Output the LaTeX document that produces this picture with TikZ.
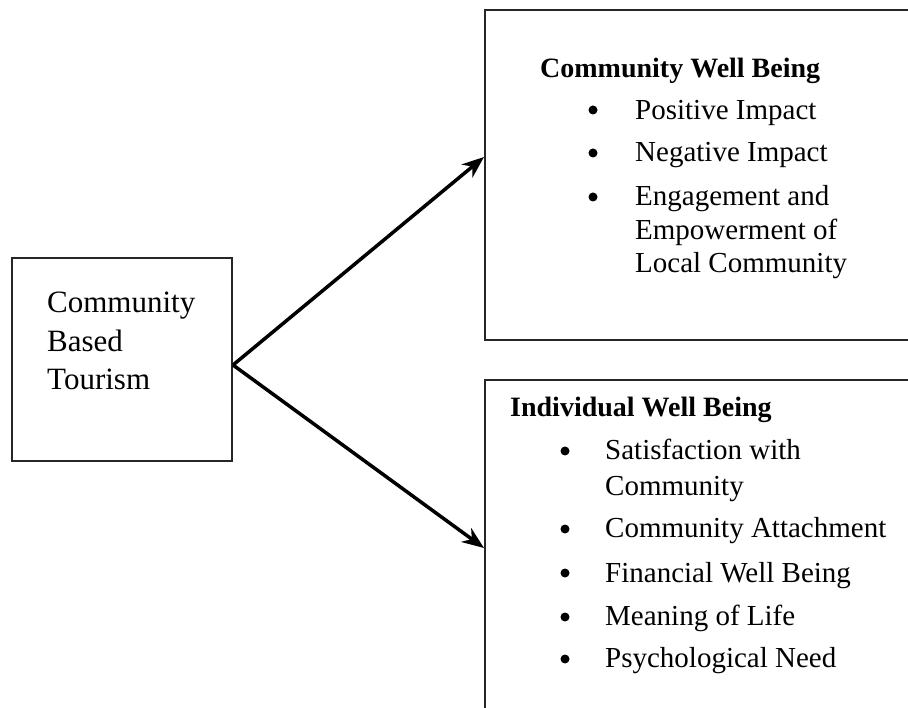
\documentclass[tikz,border=0pt]{standalone}
\usepackage{fontspec}
\setmainfont{Liberation Serif}
\usetikzlibrary{arrows.meta}

\tikzset{
  box/.style={draw=black!85, line width=2pt, inner sep=0pt},
  line/.style={anchor=base west, inner sep=0pt, font=\fontsize{29}{34}\selectfont},
  head/.style={line, font=\fontsize{28}{34}\selectfont\bfseries},
  dot/.style={circle, fill=black, inner sep=0pt, minimum size=9pt},
  arr/.style={line width=3.5pt, -{Stealth[length=22pt,width=17pt,inset=7pt]}}
}

\begin{document}
\begin{tikzpicture}[x=1pt,y=-1pt]
    \useasboundingbox (0,0) rectangle (908,708);
    % boxes
    \node[box, minimum width=220pt, minimum height=203pt] (CBT) at (122,359.5) {};
    \node[box, minimum width=455pt, minimum height=330pt] (CWB) at (712.5,175) {};
    \node[box, minimum width=455pt, minimum height=360pt] (IWB) at (712.5,560) {};
    % left box
    \node[line, font=\fontsize{31}{38}\selectfont] (T1) at (47,313) {Community};
    \node[line, font=\fontsize{31}{38}\selectfont] (T2) at (47,352) {Based};
    \node[line, font=\fontsize{31}{38}\selectfont] (T3) at (47,390) {Tourism};
    % community well being
    \node[head] (CH) at (540,78) {Community Well Being};
    \node[dot] (CB1) at (593,110) {};
    \node[line] (C1) at (635,120) {Positive Impact};
    \node[dot] (CB2) at (593,153) {};
    \node[line] (C2) at (635,162) {Negative Impact};
    \node[dot] (CB3) at (593,197) {};
    \node[line] (C3a) at (635,206) {Engagement and};
    \node[line] (C3b) at (635,240) {Empowerment of};
    \node[line] (C3c) at (635,273) {Local Community};
    % individual well being
    \node[head] (IH) at (510,417) {Individual Well Being};
    \node[dot] (IB1) at (565,451) {};
    \node[line] (I1a) at (605,460) {Satisfaction with};
    \node[line] (I1b) at (605,495) {Community};
    \node[dot] (IB2) at (565,529) {};
    \node[line] (I2) at (605,537) {Community Attachment};
    \node[dot] (IB3) at (565,573) {};
    \node[line] (I3) at (605,582) {Financial Well Being};
    \node[dot] (IB4) at (565,617) {};
    \node[line] (I4) at (605,625) {Meaning of Life};
    \node[dot] (IB5) at (565,659) {};
    \node[line] (I5) at (605,667) {Psychological Need};
    % arrows
    \coordinate (CWBin) at (484,157);
    \coordinate (IWBin) at (484,548);
    \path ([yshift=-5.5pt]CBT.east) edge[arr] (CWBin);
    \path ([yshift=-5.5pt]CBT.east) edge[arr] (IWBin);
\end{tikzpicture}
\end{document}
